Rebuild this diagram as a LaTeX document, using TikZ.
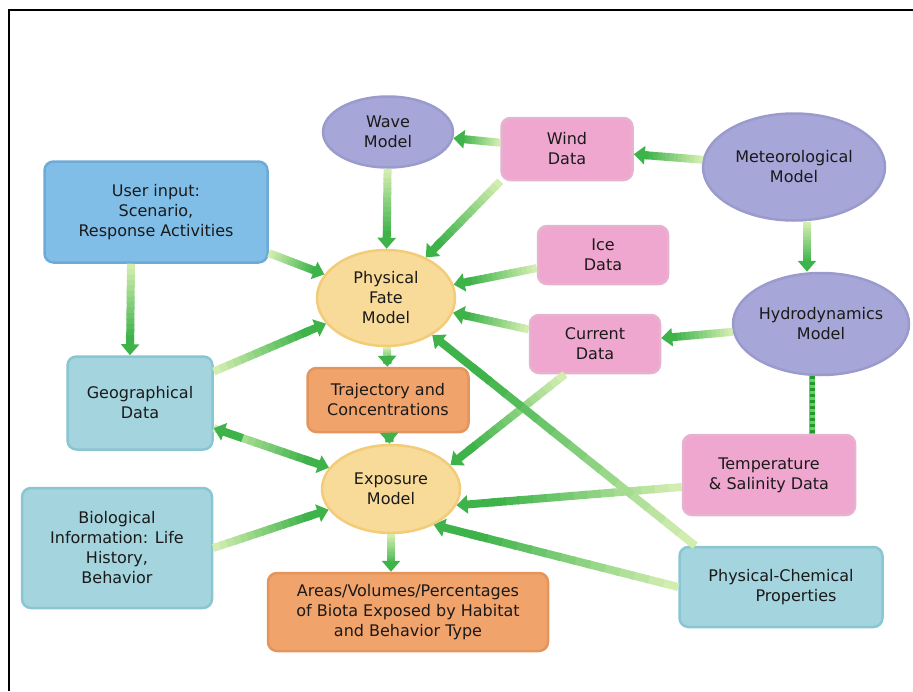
\documentclass[tikz,border=0pt]{standalone}
\usepackage{fontspec}
\setmainfont{DejaVu Sans}
\usetikzlibrary{shapes.geometric,arrows.meta,calc}
\definecolor{purpF}{HTML}{A6A6D8}\definecolor{purpD}{HTML}{9A9ACD}
\definecolor{yelF}{HTML}{F8DB98}\definecolor{yelD}{HTML}{F2CC78}
\definecolor{pinkF}{HTML}{EFA7CF}\definecolor{pinkD}{HTML}{E7B2D0}
\definecolor{oraF}{HTML}{F1A36C}\definecolor{oraD}{HTML}{E4955C}
\definecolor{bluF}{HTML}{80BEE8}\definecolor{bluD}{HTML}{6EAAD6}
\definecolor{tealF}{HTML}{A4D4DE}\definecolor{tealD}{HTML}{8AC6D2}
\definecolor{glight}{HTML}{D2EDB0}\definecolor{gdark}{HTML}{3DB34A}
\definecolor{dotdark}{HTML}{1E9A2E}\definecolor{dotlight}{HTML}{6CCF5C}
\definecolor{txt}{HTML}{1A1A1A}
\tikzset{
  lbl/.style={align=center, text=txt, font=\fontsize{16}{20}\selectfont, inner sep=0pt},
  oval/.style={lbl, ellipse, line width=2.5pt},
  box/.style={lbl, rectangle, rounded corners=9pt, line width=2.5pt},
  purp/.style={oval, fill=purpF, draw=purpD},
  yel/.style={oval, fill=yelF, draw=yelD},
  pinkbox/.style={box, fill=pinkF, draw=pinkD},
  orabox/.style={box, fill=oraF, draw=oraD},
  blubox/.style={box, fill=bluF, draw=bluD},
  tealbox/.style={box, fill=tealF, draw=tealD},
  sz/.style 2 args={minimum width=#1, minimum height=#2},
  shaft/.style={line width=8pt},
  ghead/.style={-{Triangle[width=18pt,length=11pt]}},
}
\newcommand\garrow[2]{%
  \path #1 -- #2 coordinate[pos=0] (gA) coordinate[pos=1] (gB);
  \foreach \k in {0,...,13}{%
    \pgfmathsetmacro\pa{\k*0.06}%
    \pgfmathsetmacro\pb{\k*0.06+0.07}%
    \pgfmathtruncatemacro\pc{100*\k/13}%
    \draw[shaft, color=gdark!\pc!glight] ($(gA)!\pa!(gB)$) -- ($(gA)!\pb!(gB)$);
  }%
  \draw[shaft, gdark, ghead] ($(gA)!0.8!(gB)$) -- (gB);
}
\begin{document}
\begin{tikzpicture}[x=1pt, y=-1pt]
\useasboundingbox (0,0) rectangle (913,691);
\draw[line width=2pt] (9,691) -- (9,10) -- (913,10);

\node[purp, sz={130pt}{71pt}] (wave) at (388,132) {Wave\\Model};
\node[pinkbox, sz={131pt}{62pt}] (wind) at (567,149) {Wind\\Data};
\node[purp, sz={182pt}{107pt}] (met) at (794,167) {Meteorological\\Model};
\node[blubox, sz={223pt}{101pt}] (user) at (156,212) {User input:\\Scenario,\\Response Activities};
\node[pinkbox, sz={130pt}{58pt}] (ice) at (603,255) {Ice\\Data};
\node[yel, sz={138pt}{96pt}] (phys) at (386,298) {Physical\\Fate\\Model};
\node[pinkbox, sz={130pt}{58pt}] (curr) at (595,344) {Current\\Data};
\node[purp, sz={176pt}{102pt}] (hydro) at (821,324) {Hydrodynamics\\Model};
\node[tealbox, sz={145pt}{93pt}] (geo) at (140,403) {Geographical\\Data};
\node[orabox, sz={161pt}{64pt}] (traj) at (388,400) {Trajectory and\\Concentrations};
\node[yel, sz={138pt}{88pt}] (expo) at (391,489) {Exposure\\Model};
\node[pinkbox, sz={172pt}{80pt}] (temp) at (769,475) {Temperature\\\& Salinity Data};
\node[tealbox, sz={203pt}{80pt}] (pc) at (781,587) {Physical-Chemical\\\hspace*{30pt}Properties};
\node[orabox, sz={280pt}{78pt}] (areas) at (408,612) {Areas/Volumes/Percentages\\of Biota Exposed by Habitat\\and Behavior Type};
\node[tealbox, sz={190pt}{120pt}] (bio) at (117,548) {Biological\\Information: Life\\History,\\Behavior};

% connectors
\garrow{(wind)}{(wave)}
\garrow{(met)}{(wind)}
\garrow{(wave)}{(phys)}
\garrow{(wind.south west)}{(phys)}
\garrow{(user.-20)}{(phys)}
\garrow{(ice)}{(phys)}
\garrow{(curr)}{(phys)}
\garrow{(geo)}{(phys)}
\garrow{([xshift=-25pt]user.south)}{([xshift=-10pt]geo.north)}
\garrow{(phys)}{(traj)}
\garrow{(traj)}{(expo)}
\garrow{(expo.south)}{(expo.south |- areas.north)}
\garrow{(geo)}{(expo)}
\draw[shaft, gdark, ghead] ($(gB)!0.75!(gA)$) -- (gA);
\garrow{(bio.east)}{(expo)}
\garrow{([xshift=-30pt]curr.south)}{(expo.22)}
\garrow{([yshift=-12pt]temp.west)}{(expo.-14)}
\garrow{(pc.west)}{(expo.-40)}
\garrow{([xshift=17pt]pc.north west)}{(phys)}
\garrow{([xshift=13pt]met.south)}{([xshift=13pt]met.south |- hydro.north)}
\garrow{(hydro)}{(curr)}

\draw[line width=6pt, dotlight] ([xshift=-9pt]hydro.south) -- ([xshift=-9pt]hydro.south |- temp.north);
\draw[line width=5pt, dotdark, dash pattern=on 3pt off 3pt] ([xshift=-9pt]hydro.south) -- ([xshift=-9pt]hydro.south |- temp.north);
\end{tikzpicture}
\end{document}
